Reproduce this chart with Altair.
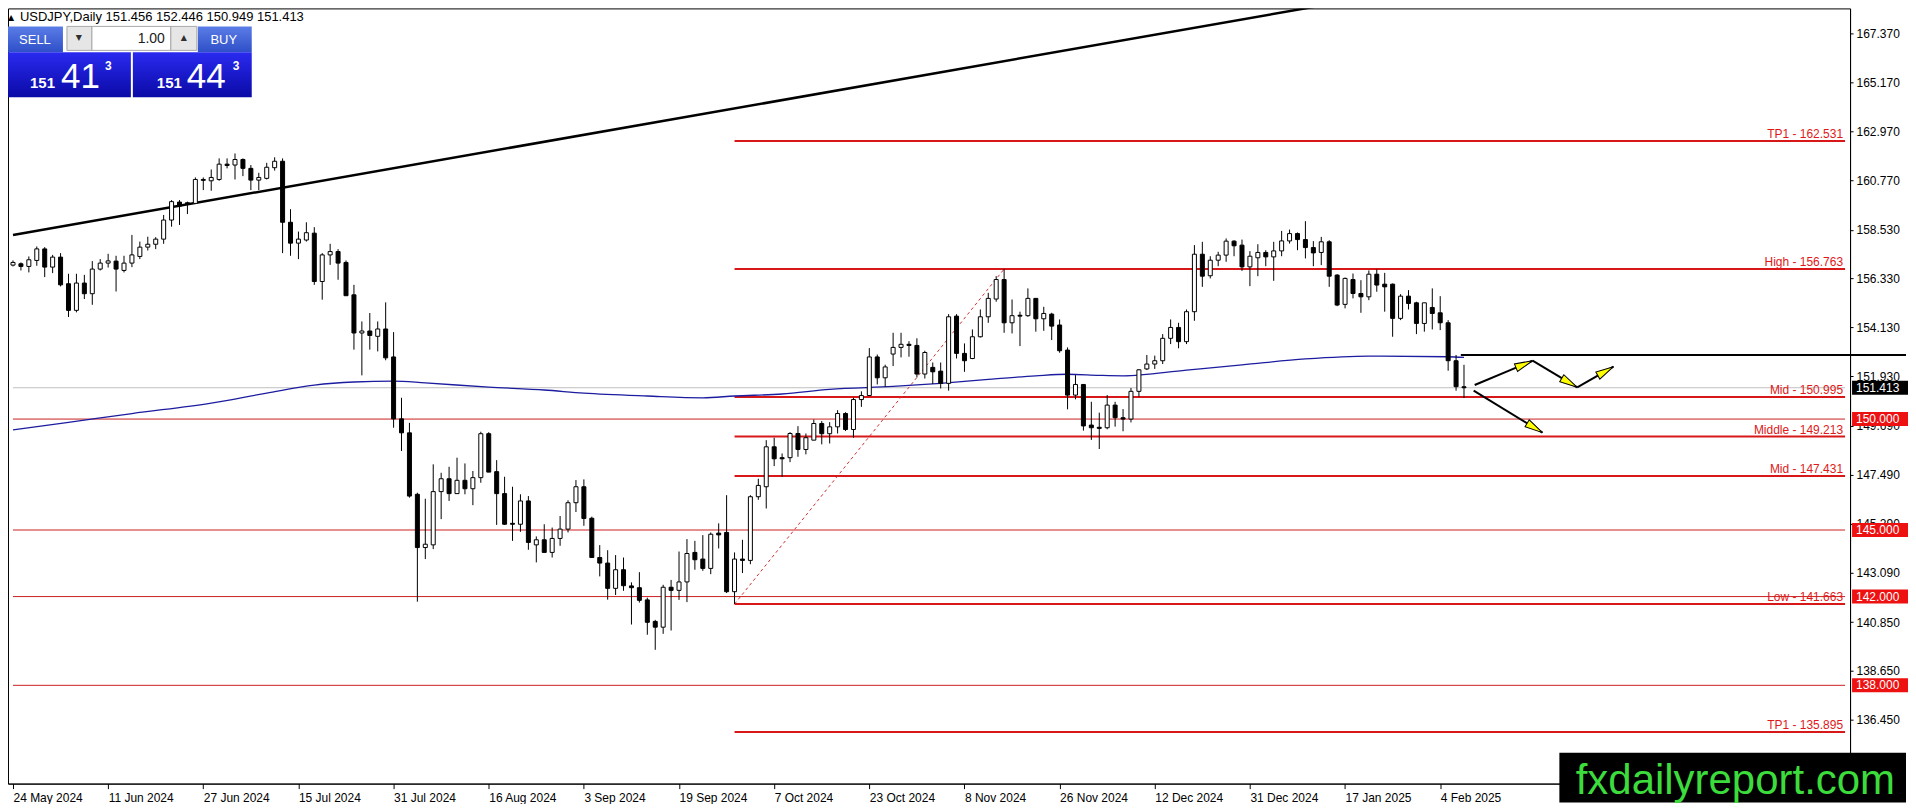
import math
import altair as alt
import pandas as pd

# ---------------- data ----------------
OPEN = [
156.94, 157.00, 156.88, 157.15, 157.67, 156.85, 157.30, 156.10, 154.90, 156.13,
155.65, 156.76, 157.03, 157.12, 156.70, 157.03, 157.33, 157.75, 157.88, 158.11,
158.97, 159.78, 159.75, 159.72, 160.80, 160.74, 160.80, 161.49, 161.45, 161.70,
161.30, 160.77, 160.85, 161.33, 161.62, 158.87, 157.93, 158.07, 158.38, 156.20,
157.40, 157.55, 157.06, 155.60, 153.88, 153.97, 153.73, 154.06, 152.80, 150.01,
149.38, 146.61, 144.21, 144.33, 146.73, 147.31, 146.64, 147.24, 146.86, 147.36,
149.34, 147.63, 146.64, 145.30, 145.26, 146.31, 144.33, 144.56, 143.99, 144.62,
145.04, 146.23, 146.95, 145.53, 143.76, 143.51, 142.37, 143.21, 142.48, 142.40,
141.85, 140.88, 140.62, 142.42, 142.28, 142.66, 143.99, 143.69, 143.27, 144.86,
144.89, 142.22, 143.69, 143.63, 146.50, 146.95, 148.75, 148.26, 148.26, 149.35,
148.63, 149.05, 149.80, 149.34, 149.65, 150.25, 149.53, 150.88, 151.06, 152.80,
151.86, 152.93, 153.23, 153.37, 153.32, 152.03, 152.33, 152.16, 151.61, 154.64,
152.96, 152.73, 153.71, 154.61, 155.41, 156.29, 154.34, 154.68, 154.66, 155.44,
154.52, 154.73, 154.24, 153.11, 151.08, 151.56, 149.73, 149.63, 149.61, 150.63,
150.06, 150.00, 151.25, 152.26, 152.48, 152.63, 153.64, 154.13, 153.49, 154.84,
157.43, 156.46, 157.16, 157.39, 158.02, 157.84, 156.86, 157.27, 157.51, 157.31,
157.58, 158.03, 158.36, 158.09, 157.73, 157.51, 157.99, 156.49, 155.17, 156.29,
155.66, 155.51, 156.53, 156.08, 156.08, 154.54, 155.54, 155.24, 154.31, 155.03,
154.79, 154.34, 152.63, 151.456]

HIGH = [
157.15, 157.06, 157.33, 157.78, 157.75, 157.40, 157.48, 156.55, 156.55, 156.50,
157.12, 157.21, 157.45, 157.36, 157.36, 158.30, 158.00, 158.22, 158.20, 159.20,
159.87, 159.87, 159.80, 160.89, 160.89, 161.25, 161.75, 161.75, 161.97, 161.75,
161.45, 161.10, 161.55, 161.80, 161.75, 159.46, 158.45, 158.87, 158.65, 157.48,
157.90, 157.66, 157.15, 156.05, 154.40, 154.78, 154.40, 155.26, 153.92, 150.96,
149.83, 146.68, 146.41, 147.96, 147.58, 147.85, 148.26, 148.00, 147.66, 149.43,
149.41, 148.15, 147.40, 146.95, 146.61, 146.53, 144.71, 145.26, 145.11, 145.63,
146.34, 147.25, 147.28, 145.60, 144.32, 144.09, 143.87, 143.76, 142.64, 143.10,
141.95, 140.95, 142.53, 142.75, 144.03, 144.59, 144.51, 144.77, 144.89, 145.30,
146.57, 143.99, 144.56, 146.57, 147.31, 149.05, 149.16, 148.45, 149.41, 149.68,
149.35, 149.98, 149.91, 149.86, 150.40, 150.31, 150.96, 151.25, 153.20, 152.91,
152.45, 153.89, 153.89, 153.51, 153.64, 153.08, 152.55, 152.55, 154.73, 154.73,
153.41, 154.04, 154.94, 155.69, 156.44, 156.763, 155.39, 154.84, 155.89, 155.44,
155.06, 154.79, 154.49, 153.23, 151.98, 151.58, 150.78, 150.29, 151.08, 150.78,
150.45, 151.40, 152.25, 152.89, 152.86, 153.83, 154.49, 154.34, 154.94, 157.84,
157.99, 157.34, 157.54, 158.14, 158.06, 158.09, 157.57, 157.88, 157.61, 157.99,
158.48, 158.54, 158.41, 158.92, 158.02, 158.21, 158.06, 156.53, 156.38, 156.56,
156.26, 156.70, 156.75, 156.59, 156.11, 155.63, 155.81, 155.29, 155.24, 155.89,
155.54, 154.46, 152.89, 152.446]

LOW = [
156.88, 156.70, 156.61, 156.91, 156.40, 156.58, 155.98, 154.60, 154.81, 155.41,
155.15, 156.70, 156.83, 155.75, 156.61, 156.85, 157.21, 157.60, 157.66, 157.90,
158.67, 158.75, 159.24, 159.70, 160.32, 160.29, 160.74, 161.30, 160.80, 160.95,
160.32, 160.32, 160.80, 161.20, 157.48, 157.36, 157.21, 158.00, 156.05, 155.38,
156.95, 156.28, 155.56, 153.13, 151.97, 153.13, 153.05, 152.65, 149.61, 148.56,
146.46, 141.77, 143.69, 144.14, 145.49, 146.31, 146.64, 146.61, 146.12, 147.13,
147.61, 145.23, 145.23, 144.51, 144.92, 144.11, 143.54, 143.99, 143.76, 144.29,
144.89, 145.81, 145.19, 143.76, 142.91, 141.86, 142.07, 142.26, 140.74, 141.73,
140.28, 139.60, 140.32, 140.47, 141.85, 141.75, 143.21, 143.16, 143.01, 144.17,
142.16, 141.663, 143.06, 143.46, 146.36, 145.97, 147.88, 147.40, 148.06, 148.30,
148.41, 149.05, 148.86, 148.90, 149.35, 149.46, 149.16, 150.55, 151.06, 151.56,
151.45, 152.39, 152.78, 152.81, 151.88, 151.83, 151.58, 151.38, 151.28, 152.73,
152.13, 152.70, 153.68, 154.34, 155.29, 153.89, 153.86, 153.29, 154.61, 153.94,
153.98, 153.56, 152.99, 150.44, 150.89, 149.48, 149.06, 148.65, 149.54, 149.66,
149.45, 149.85, 151.00, 152.21, 152.26, 152.48, 153.38, 153.19, 153.38, 154.43,
155.96, 156.34, 156.89, 157.09, 157.34, 156.68, 155.99, 156.44, 156.89, 156.23,
157.34, 157.91, 157.61, 157.24, 156.89, 156.94, 155.96, 155.09, 154.99, 155.44,
154.79, 155.36, 155.74, 154.84, 153.71, 154.46, 154.94, 153.83, 153.94, 154.04,
154.01, 152.18, 151.28, 150.949]

CLOSE = [
157.06, 156.88, 157.18, 157.67, 156.85, 157.30, 156.05, 154.90, 156.13, 155.65,
156.76, 157.03, 157.13, 156.76, 157.03, 157.40, 157.75, 157.88, 158.11, 158.97,
159.80, 159.60, 159.70, 160.80, 160.76, 160.89, 161.49, 161.43, 161.70, 161.30,
160.77, 160.89, 161.35, 161.62, 158.87, 157.93, 158.11, 158.40, 156.20, 157.40,
157.55, 157.03, 155.56, 153.88, 153.97, 153.77, 154.06, 152.76, 150.01, 149.38,
146.53, 144.21, 144.36, 146.73, 147.31, 146.64, 147.24, 146.86, 147.36, 149.34,
147.61, 146.64, 145.26, 145.26, 146.31, 144.44, 144.56, 143.99, 144.62, 145.04,
146.23, 146.95, 145.52, 143.76, 143.51, 142.37, 143.21, 142.49, 142.40, 141.83,
140.84, 140.62, 142.42, 142.28, 142.66, 143.94, 143.66, 143.27, 144.81, 144.78,
142.22, 143.69, 143.63, 146.50, 147.01, 148.75, 148.21, 148.21, 149.35, 148.63,
149.16, 149.80, 149.34, 149.65, 150.25, 149.53, 150.88, 151.06, 152.80, 151.86,
152.35, 153.23, 153.37, 153.32, 152.03, 153.00, 152.13, 151.61, 154.61, 152.96,
152.63, 153.71, 154.61, 155.44, 156.29, 154.34, 154.66, 154.64, 155.44, 154.52,
154.76, 154.19, 153.08, 151.08, 151.56, 149.69, 149.61, 149.58, 150.63, 150.06,
150.00, 151.25, 152.22, 152.48, 152.63, 153.64, 154.13, 153.49, 154.84, 157.43,
156.44, 157.16, 157.39, 158.02, 157.81, 156.86, 157.34, 157.51, 157.31, 157.58,
158.03, 158.36, 158.09, 157.73, 157.49, 157.99, 156.44, 155.14, 156.34, 155.66,
155.51, 156.53, 156.04, 155.96, 154.54, 155.54, 155.21, 154.31, 155.24, 154.76,
154.34, 152.63, 151.46, 151.413]

DATE_LABELS = ["24 May 2024", "11 Jun 2024", "27 Jun 2024", "15 Jul 2024",
               "31 Jul 2024", "16 Aug 2024", "3 Sep 2024", "19 Sep 2024",
               "7 Oct 2024", "23 Oct 2024", "8 Nov 2024", "26 Nov 2024",
               "12 Dec 2024", "31 Dec 2024", "17 Jan 2025", "4 Feb 2025"]
DATE_LABEL_BARS = [0, 12, 24, 36, 48, 60, 72, 84, 96, 108, 120, 132, 144, 156, 168, 180]

PRICE_TICKS = [167.370, 165.170, 162.970, 160.770, 158.530, 156.330, 154.130,
               151.930, 149.690, 147.490, 145.290, 143.090, 140.850, 138.650, 136.450]

FIB_NAMES = ["TP1", "High", "Mid", "Middle", "Mid", "Low", "TP1"]
FIB_LEVELS = [162.531, 156.763, 150.995, 149.213, 147.431, 141.663, 135.895]
FIB_START_BAR = 91
FIB_DIAG_BARS = [91, 125]
FIB_DIAG_PRICES = [141.663, 156.763]

ROUND_LEVELS = [150.0, 145.0, 142.0, 138.0]
BID = 151.413
RESIST_LEVEL = 152.886
RESIST_START_BAR = 182.6

MA_BARS = [0, 7, 15, 25, 32, 38, 43, 48, 52, 60, 67, 72, 80, 87, 91, 97, 103, 111,
           117, 123, 129, 133, 137, 140, 148, 155, 163, 171, 181, 183]
MA_VALUES = [149.51, 149.85, 150.25, 150.72, 151.17, 151.53, 151.67, 151.71, 151.63,
             151.44, 151.31, 151.17, 151.04, 150.96, 151.04, 151.13, 151.34, 151.47,
             151.61, 151.79, 151.95, 152.02, 151.97, 151.95, 152.21, 152.44, 152.71,
             152.84, 152.81, 152.78]

TREND_BARS = [0, 230]
TREND_PRICES = [158.30, 172.71]

ARROW_B0 = [184.35, 191.65, 197.28, 184.22]
ARROW_P0 = [151.535, 152.63, 151.43, 151.28]
ARROW_B1 = [191.65, 197.28, 201.85, 192.90]
ARROW_P1 = [152.63, 151.43, 152.36, 149.39]

HEADER = "USDJPY,Daily  151.456 152.446 150.949 151.413"
WATERMARK = "fxdailyreport.com"

# ---------------- layout ----------------
FONT = "Liberation Sans"
W, H = 1844, 776
X_DOMAIN = [0, 231.06]
Y_DOMAIN = [133.57, 168.509]
RED = "#d81818"
THIN_RED = "#cc1f1f"

xs = alt.Scale(domain=X_DOMAIN, nice=False, zero=False)
ys = alt.Scale(domain=Y_DOMAIN, nice=False, zero=False)

label_arr = "[" + ",".join("'%s'" % s for s in DATE_LABELS) + "]"
x_axis = alt.Axis(values=DATE_LABEL_BARS, labelExpr=label_arr + "[round(datum.value/12)]",
                  orient="bottom", title=None, grid=False, labelAlign="left",
                  labelBaseline="top", labelPadding=4, tickSize=5, labelOffset=0,
                  labelFlush=False, labelOverlap=False, labelBound=False,
                  labelFont=FONT, labelFontSize=12, labelColor="black",
                  domainColor="black", tickColor="black")
y_axis = alt.Axis(values=PRICE_TICKS, format=".3f", orient="right", title=None,
                  grid=False, tickSize=3, labelPadding=3, labelFont=FONT,
                  labelFontSize=12, labelColor="black", domainColor="black",
                  tickColor="black", labelOverlap=False, labelBound=False,
                  labelFlush=False)


def X(field):
    return alt.X(field, type="quantitative", scale=xs, axis=x_axis)


def Y(field):
    return alt.Y(field, type="quantitative", scale=ys, axis=y_axis)


df = pd.DataFrame({"bar": list(range(len(OPEN))), "o": OPEN, "h": HIGH, "l": LOW, "c": CLOSE})
df["dir"] = ["up" if c > o else "down" for o, c in zip(OPEN, CLOSE)]

layers = []

# round levels
df_round = pd.DataFrame({"p": ROUND_LEVELS, "x0": X_DOMAIN[0], "x1": X_DOMAIN[1]})
layers.append(alt.Chart(df_round).mark_rule(color=THIN_RED, strokeWidth=1).encode(
    x=X("x0"), x2="x1", y=Y("p")))

# bid line
df_bid = pd.DataFrame({"p": [BID], "x0": X_DOMAIN[0], "x1": X_DOMAIN[1]})
layers.append(alt.Chart(df_bid).mark_rule(color="#c0c0c0", strokeWidth=1).encode(
    x=X("x0"), x2="x1", y=Y("p")))

# fib levels
df_fib = pd.DataFrame({"p": FIB_LEVELS, "x0": FIB_START_BAR, "x1": X_DOMAIN[1],
                       "label": ["%s - %.3f" % (n, v) for n, v in zip(FIB_NAMES, FIB_LEVELS)]})
layers.append(alt.Chart(df_fib).mark_rule(color=RED, strokeWidth=2).encode(
    x=X("x0"), x2="x1", y=Y("p")))
layers.append(alt.Chart(df_fib).mark_text(align="right", baseline="alphabetic", dx=-2, dy=-3,
                                          font=FONT, fontSize=12, color="#e01818").encode(
    x=X("x1"), y=Y("p"), text="label"))

# fib diagonal
df_diag = pd.DataFrame({"bar": FIB_DIAG_BARS, "p": FIB_DIAG_PRICES})
layers.append(alt.Chart(df_diag).mark_line(color="#d03030", strokeWidth=1, strokeDash=[3, 3]).encode(
    x=X("bar"), y=Y("p")))

# moving average
df_ma = pd.DataFrame({"bar": MA_BARS, "ma": MA_VALUES})
layers.append(alt.Chart(df_ma).mark_line(color="#1c1ca0", strokeWidth=1.3, interpolate="monotone",
                                         clip=True).encode(x=X("bar"), y=Y("ma")))

# trend line
df_tr = pd.DataFrame({"bar": TREND_BARS, "p": TREND_PRICES})
layers.append(alt.Chart(df_tr).mark_line(color="black", strokeWidth=2.5, clip=True).encode(
    x=X("bar"), y=Y("p")))

# candles
layers.append(alt.Chart(df).mark_rule(color="black", strokeWidth=1, clip=True).encode(
    x=X("bar"), y=Y("l"), y2="h"))
layers.append(alt.Chart(df).mark_bar(size=4, stroke="black", strokeWidth=1, clip=True).encode(
    x=X("bar"), y=Y("o"), y2="c",
    fill=alt.Fill("dir:N", scale=alt.Scale(domain=["up", "down"], range=["#ffffff", "#000000"]),
                  legend=None)))

# resistance line running through the price scale
df_res = pd.DataFrame({"b": [RESIST_START_BAR], "p": [RESIST_LEVEL]})
layers.append(alt.Chart(df_res).mark_rule(color="black", strokeWidth=2).encode(
    x=X("b"), x2=alt.value(1900), y=Y("p")))

# arrows
kx = W / (X_DOMAIN[1] - X_DOMAIN[0])
ky = H / (Y_DOMAIN[1] - Y_DOMAIN[0])
angs = []
for b0, p0, b1, p1 in zip(ARROW_B0, ARROW_P0, ARROW_B1, ARROW_P1):
    dx = (b1 - b0) * kx
    dy = -(p1 - p0) * ky
    angs.append(math.degrees(math.atan2(dx, -dy)) % 360)
df_arr = pd.DataFrame({"b0": ARROW_B0, "p0": ARROW_P0, "b1": ARROW_B1, "p1": ARROW_P1, "ang": angs})
layers.append(alt.Chart(df_arr).mark_rule(color="black", strokeWidth=2).encode(
    x=X("b0"), y=Y("p0"), x2="b1", y2="p1"))
layers.append(alt.Chart(df_arr).mark_point(shape="M0,0L0.45,2L-0.45,2Z", filled=True,
                                           fill="#ffff00", stroke="black", strokeWidth=1,
                                           size=324, opacity=1).encode(
    x=X("b1"), y=Y("p1"), angle=alt.Angle("ang:Q", scale=None)))

# price boxes on the axis
df_box = pd.DataFrame({"p": [BID] + ROUND_LEVELS,
                       "label": ["%.3f" % v for v in [BID] + ROUND_LEVELS],
                       "bg": ["#000000"] + ["#ee1111"] * len(ROUND_LEVELS)})
layers.append(alt.Chart(df_box).mark_rect(yOffset=-7, y2Offset=7).encode(
    x=alt.value(1846), x2=alt.value(1902), y=Y("p"), y2=alt.Y2("p"),
    fill=alt.Fill("bg:N", scale=None)))
layers.append(alt.Chart(df_box).mark_text(align="left", baseline="middle", font=FONT,
                                          fontSize=12, color="white").encode(
    x=alt.value(1850), y=Y("p"), text="label"))


def box(x0, x1, y0, y1, fill, stroke=None):
    kw = {"fill": fill}
    if stroke:
        kw["stroke"] = stroke
        kw["strokeWidth"] = 1
    return alt.Chart(pd.DataFrame({"k": [0]})).mark_rect(**kw).encode(
        x=alt.value(x0), x2=alt.value(x1), y=alt.value(y0), y2=alt.value(y1))


def txt(s, x, y, size, color="white", align="left", weight="normal", baseline="alphabetic",
        font=FONT):
    return alt.Chart(pd.DataFrame({"t": [s]})).mark_text(
        align=align, baseline=baseline, fontSize=size, color=color, fontWeight=weight,
        font=font).encode(x=alt.value(x), y=alt.value(y), text="t")


btn_grad = {"gradient": "linear", "x1": 0, "y1": 0, "x2": 0, "y2": 1,
            "stops": [{"offset": 0, "color": "#5b7de6"}, {"offset": 1, "color": "#2e4fc8"}]}
low_grad = {"gradient": "linear", "x1": 0, "y1": 0, "x2": 0, "y2": 1,
            "stops": [{"offset": 0, "color": "#2a2af0"}, {"offset": 1, "color": "#0a0aa6"}]}

# trade panel
layers += [
    box(0, 55, 18, 44, btn_grad),
    box(190, 244, 18, 44, btn_grad),
    box(0, 123, 44, 89, low_grad),
    box(125, 244, 44, 89, low_grad),
    box(59, 84, 18, 42, "#e6e6e6", "#a8a8a8"),
    box(84, 163, 18, 42, "#ffffff", "#a8a8a8"),
    box(163, 189, 18, 42, "#e6e6e6", "#a8a8a8"),
    txt("SELL", 27, 36, 13, align="center"),
    txt("BUY", 216, 36, 13, align="center"),
    txt("1.00", 157, 35, 14, color="#202020", align="right"),
    txt("\u25bc", 71, 30, 8, color="#303030", align="center", baseline="middle", font="DejaVu Sans"),
    txt("\u25b2", 176, 30, 8, color="#303030", align="center", baseline="middle", font="DejaVu Sans"),
    txt("151", 22, 80, 15, weight="bold"),
    txt("41", 53, 80, 35),
    txt("3", 97, 62, 12, weight="bold"),
    txt("151", 149, 80, 15, weight="bold"),
    txt("44", 179, 80, 35),
    txt("3", 225, 62, 12, weight="bold"),
    txt("\u25b2", 0, 12, 8, color="black", font="DejaVu Sans"),
    txt(HEADER, 12, 13, 13, color="black"),
]

# watermark
layers.append(box(1553, 1900, 745, 795, "#000000"))
layers.append(txt(WATERMARK, 1889, 786, 42, color="#3cdc3c", align="right"))

chart = alt.layer(*layers).properties(width=W, height=H, padding=0, background="white").configure_view(
    stroke="black", strokeWidth=1)

chart.save("out.html", embed_options={"renderer": "svg", "actions": False})
